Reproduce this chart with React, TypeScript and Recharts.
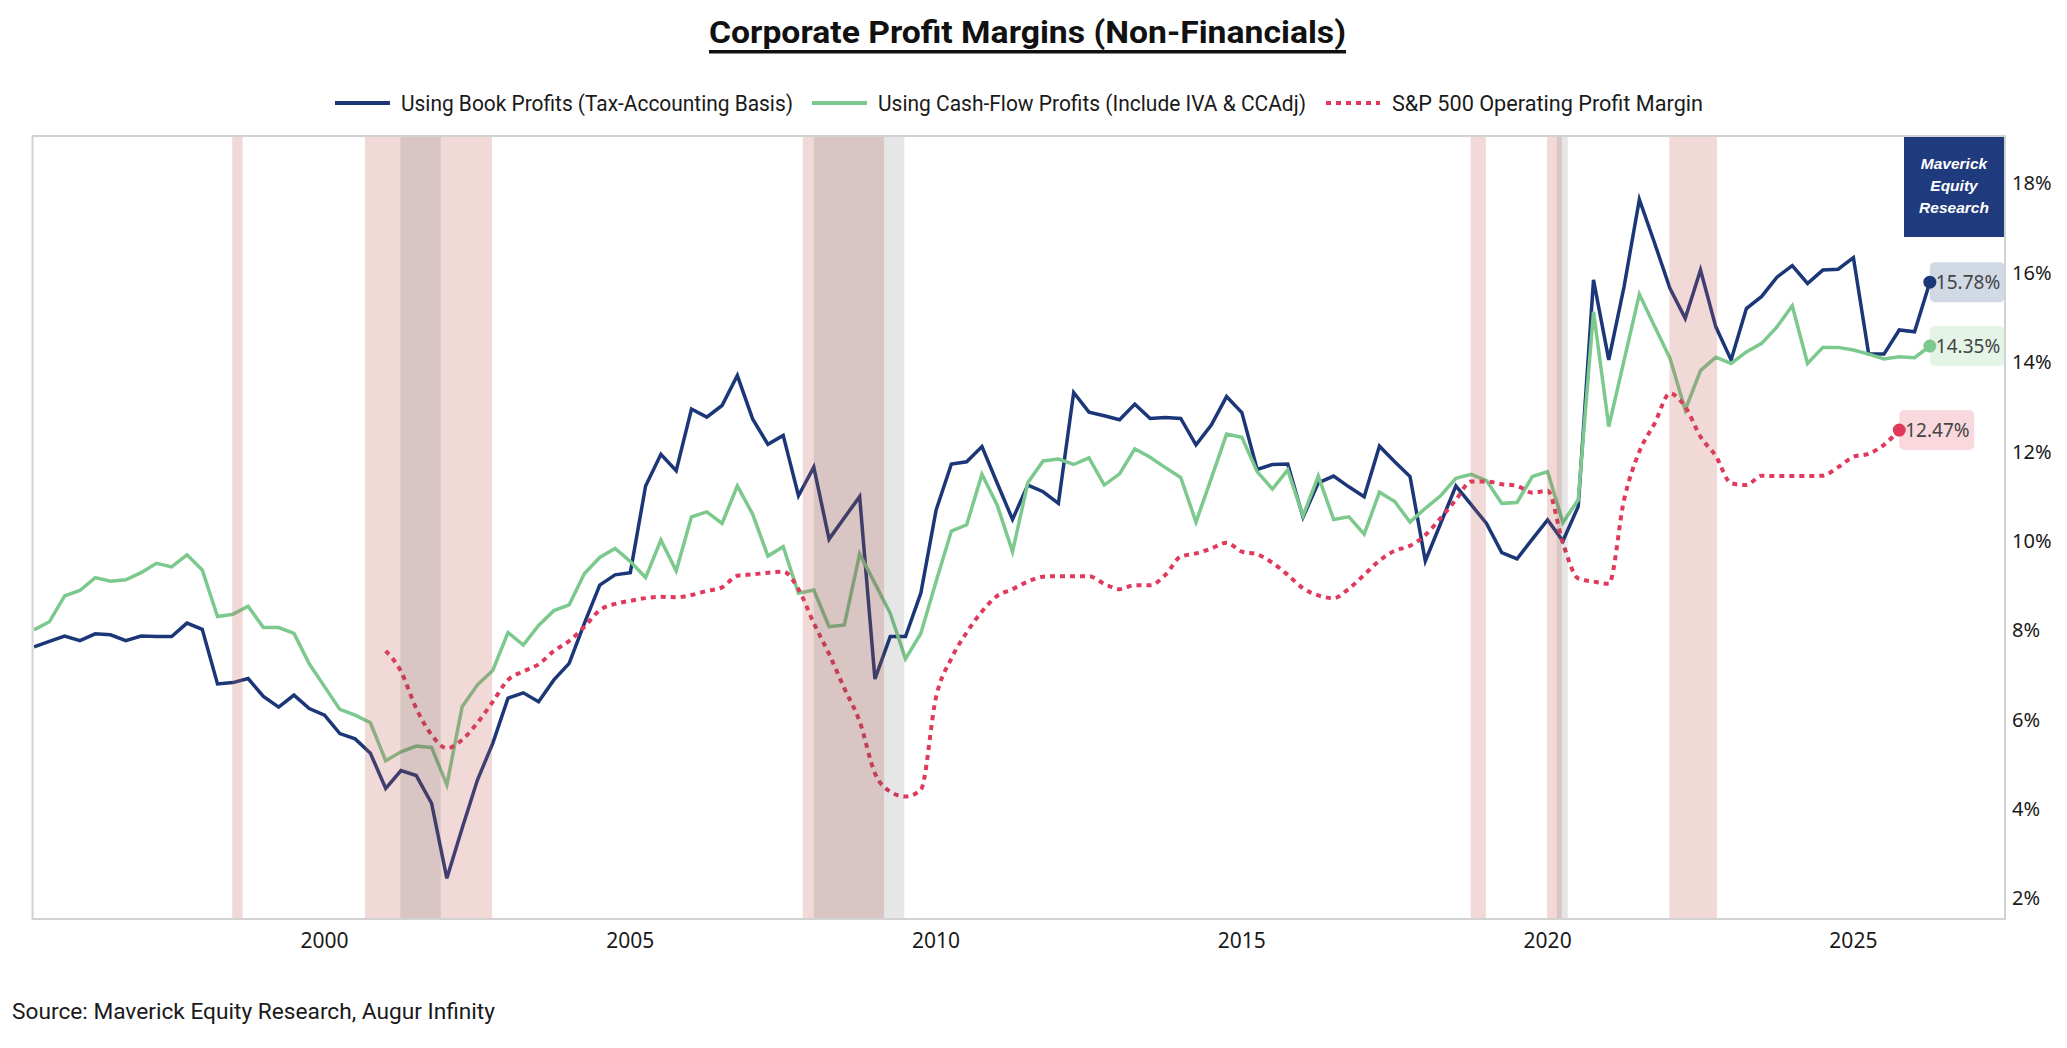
import React from "react";
import { LineChart, Line, XAxis, YAxis, ReferenceArea } from "recharts";

// ---------- DATA ----------
// quarterly observations, first one at 1995.25 on the (fractional-year) time axis
const FIRST_QUARTER = 1995.25;
const QUARTER_STEP = 0.25;

const BOOK_PROFITS = [
  7.62, 7.74, 7.86, 7.76, 7.91, 7.89, 7.76, 7.86, 7.85, 7.85,
  8.15, 8.01, 6.79, 6.82, 6.91, 6.51, 6.27, 6.54, 6.24, 6.09,
  5.68, 5.56, 5.24, 4.45, 4.85, 4.74, 4.12, 2.44, 3.56, 4.64,
  5.46, 6.47, 6.59, 6.39, 6.88, 7.25, 8.15, 9.0, 9.23, 9.28,
  11.22, 11.93, 11.56, 12.94, 12.76, 13.02, 13.69, 12.72, 12.15, 12.35,
  11.0, 11.64, 10.03, 10.51, 10.98, 6.9, 7.85, 7.85, 8.82, 10.68,
  11.71, 11.76, 12.1, 11.28, 10.47, 11.24, 11.09, 10.83, 13.31, 12.87,
  12.79, 12.7, 13.05, 12.73, 12.75, 12.73, 12.14, 12.58, 13.22, 12.86,
  11.59, 11.7, 11.71, 10.52, 11.29, 11.44, 11.2, 10.98, 12.11, 11.76,
  11.43, 9.54, 10.38, 11.22, 10.8, 10.38, 9.73, 9.59, 10.03, 10.46,
  9.99, 10.76, 15.83, 14.04, 15.68, 17.63, 16.65, 15.64, 14.97, 16.05,
  14.78, 14.04, 15.19, 15.46, 15.89, 16.15, 15.75, 16.05, 16.07, 16.33,
  14.17, 14.17, 14.71, 14.67, 15.78,
];

const CASH_FLOW_PROFITS = [
  8.0, 8.18, 8.76, 8.88, 9.17, 9.09, 9.12, 9.28, 9.49, 9.41,
  9.68, 9.34, 8.3, 8.35, 8.53, 8.05, 8.05, 7.92, 7.24, 6.73,
  6.22, 6.09, 5.92, 5.07, 5.27, 5.4, 5.37, 4.53, 6.28, 6.77,
  7.09, 7.94, 7.66, 8.1, 8.43, 8.56, 9.26, 9.62, 9.82, 9.53,
  9.17, 10.01, 9.32, 10.53, 10.64, 10.38, 11.22, 10.59, 9.65, 9.86,
  8.82, 8.89, 8.07, 8.11, 9.7, 9.04, 8.37, 7.35, 7.92, 9.08,
  10.21, 10.35, 11.48, 10.79, 9.75, 11.29, 11.78, 11.82, 11.7, 11.85,
  11.24, 11.49, 12.05, 11.86, 11.63, 11.41, 10.41, 11.39, 12.38, 12.31,
  11.54, 11.15, 11.58, 10.55, 11.44, 10.47, 10.53, 10.14, 11.08, 10.87,
  10.41, 10.72, 11.0, 11.39, 11.48, 11.34, 10.83, 10.85, 11.43, 11.54,
  10.4, 10.91, 15.12, 12.55, 14.03, 15.51, 14.79, 14.08, 12.92, 13.8,
  14.1, 13.96, 14.22, 14.41, 14.78, 15.25, 13.96, 14.32, 14.32, 14.26,
  14.17, 14.06, 14.11, 14.09, 14.35,
];

// S&P 500 series starts at the 24th quarter of the grid (index 23)
const SP500_START_INDEX = 23;
const SP500_MARGIN = [
  7.53, 7.07, 6.24, 5.65, 5.35, 5.54, 5.92, 6.39, 6.88, 7.07,
  7.23, 7.53, 7.75, 8.07, 8.44, 8.58, 8.65, 8.71, 8.74, 8.73,
  8.78, 8.87, 8.95, 9.21, 9.24, 9.28, 9.3, 8.91, 8.15, 7.46,
  6.69, 5.95, 4.79, 4.38, 4.27, 4.42, 6.5, 7.36, 7.94, 8.41,
  8.76, 8.91, 9.08, 9.19, 9.2, 9.2, 9.2, 9.03, 8.91, 9.0,
  9.0, 9.23, 9.64, 9.71, 9.82, 9.95, 9.75, 9.69, 9.5, 9.23,
  8.93, 8.77, 8.71, 8.92, 9.23, 9.55, 9.77, 9.88, 10.12, 10.5,
  10.91, 11.32, 11.32, 11.26, 11.22, 11.07, 11.11, 9.94, 9.15, 9.08,
  9.03, 10.91, 11.99, 12.62, 13.29, 12.99, 12.32, 11.89, 11.28, 11.24,
  11.45, 11.44, 11.44, 11.44, 11.45, 11.64, 11.87, 11.94, 12.14, 12.47,
];

// shaded periods (fractional years)
const PINK_BANDS = [
  [1998.49, 1998.66],
  [2000.66, 2002.74],
  [2007.82, 2009.15],
  [2018.74, 2018.99],
  [2019.99, 2020.23],
  [2021.99, 2022.77],
];
const GRAY_BANDS = [
  [2001.24, 2001.9],
  [2008.0, 2009.48],
  [2020.15, 2020.33],
];

const X_TICKS = [2000, 2005, 2010, 2015, 2020, 2025];
const Y_TICKS = [2, 4, 6, 8, 10, 12, 14, 16, 18];
const X_DOMAIN = [1995.226, 2027.479];
const Y_DOMAIN = [1.53, 19.05];

const TITLE = "Corporate Profit Margins (Non-Financials)";
const LEGEND_BOOK = "Using Book Profits (Tax-Accounting Basis)";
const LEGEND_CASH = "Using Cash-Flow Profits (Include IVA & CCAdj)";
const LEGEND_SP = "S&P 500 Operating Profit Margin";
const SOURCE = "Source: Maverick Equity Research, Augur Infinity";

// ---------- STYLE ----------
const BLUE = "#1b3778";
const GREEN = "#7cc98e";
const RED = "#e0395b";
const NARROW = "'Liberation Sans Narrow', 'Roboto', 'Noto Sans', sans-serif";
const TICK_FONT = "'Noto Sans', 'DejaVu Sans', sans-serif";

const data = BOOK_PROFITS.map((b, i) => {
  const j = i - SP500_START_INDEX;
  return {
    t: FIRST_QUARTER + i * QUARTER_STEP,
    book: b,
    cash: CASH_FLOW_PROFITS[i],
    sp: j >= 0 && j < SP500_MARGIN.length ? SP500_MARGIN[j] : null,
  };
});

const LAST_MAIN = BOOK_PROFITS.length - 1;
const LAST_SP = SP500_START_INDEX + SP500_MARGIN.length - 1;

const makeEndDot = (key: string, color: string, bg: string, lastIndex: number) =>
  (props: any) => {
    const { cx, cy, index, payload } = props;
    if (index !== lastIndex || cx == null || cy == null) {
      return <g key={`${key}-${index}`} />;
    }
    const v = payload[key] as number;
    return (
      <g key={`${key}-end`}>
        <rect x={cx} y={cy - 20} width={75} height={40} rx={5} fill={bg} />
        <circle cx={cx} cy={cy} r={6.5} fill={color} />
        <text
          x={cx + 6}
          y={cy + 7}
          fontSize={19}
          fill="#454545"
          fontFamily={TICK_FONT}
        >
          {v.toFixed(2)}%
        </text>
      </g>
    );
  };

const XTick = (props: any) => {
  const { x, y, payload } = props;
  return (
    <text x={x} y={y + 29} textAnchor="middle" fontSize={21} fill="#1a1a1a" fontFamily={TICK_FONT}>
      {payload.value}
    </text>
  );
};

const YTick = (props: any) => {
  const { x, y, payload } = props;
  return (
    <text x={x + 7} y={y + 7.5} textAnchor="start" fontSize={20} fill="#1a1a1a" fontFamily={TICK_FONT}>
      {payload.value}%
    </text>
  );
};

export default function App() {
  return (
    <div style={{ position: "absolute", left: 0, top: 0, width: 2067, height: 1048, background: "#fff" }}>
      <LineChart
        width={2067}
        height={1048}
        data={data}
        margin={{ top: 136, right: 0, bottom: 89, left: 32.6 }}
      >
        <XAxis
          dataKey="t"
          type="number"
          domain={X_DOMAIN}
          allowDataOverflow
          ticks={X_TICKS}
          axisLine={false}
          tickLine={false}
          tickSize={0}
          tickMargin={0}
          height={40}
          tick={<XTick />}
          interval={0}
        />
        <YAxis
          orientation="right"
          type="number"
          domain={Y_DOMAIN}
          allowDataOverflow
          ticks={Y_TICKS}
          axisLine={false}
          tickLine={false}
          tickSize={0}
          tickMargin={0}
          width={62}
          tick={<YTick />}
          interval={0}
        />
        <Line
          dataKey="book"
          stroke={BLUE}
          strokeWidth={3.5}
          strokeLinejoin="miter"
          type="linear"
          isAnimationActive={false}
          dot={makeEndDot("book", BLUE, "#d1d9e5", LAST_MAIN)}
          activeDot={false}
        />
        <Line
          dataKey="cash"
          stroke={GREEN}
          strokeWidth={3.5}
          type="linear"
          isAnimationActive={false}
          dot={makeEndDot("cash", GREEN, "#e4f4e7", LAST_MAIN)}
          activeDot={false}
        />
        <Line
          dataKey="sp"
          stroke={RED}
          strokeWidth={4}
          strokeDasharray="5 5"
          type="monotone"
          connectNulls={false}
          isAnimationActive={false}
          dot={makeEndDot("sp", RED, "#f9d8de", LAST_SP)}
          activeDot={false}
        />
        {PINK_BANDS.map(([a, b], i) => (
          <ReferenceArea
            key={`p${i}`}
            x1={a}
            x2={b}
            y1={Y_DOMAIN[0]}
            y2={Y_DOMAIN[1]}
            fill="rgb(190,90,80)"
            fillOpacity={0.23}
            stroke="none"
            zIndex={1500}
          />
        ))}
        {GRAY_BANDS.map(([a, b], i) => (
          <ReferenceArea
            key={`g${i}`}
            x1={a}
            x2={b}
            y1={Y_DOMAIN[0]}
            y2={Y_DOMAIN[1]}
            fill="rgb(60,60,60)"
            fillOpacity={0.13}
            stroke="none"
            zIndex={1510}
          />
        ))}
        <ReferenceArea
          x1={X_DOMAIN[0]}
          x2={X_DOMAIN[1]}
          y1={Y_DOMAIN[0]}
          y2={Y_DOMAIN[1]}
          fill="none"
          fillOpacity={0}
          stroke="#d2d2d2"
          strokeWidth={2}
          zIndex={1520}
        />
      </LineChart>

      <svg
        width={2067}
        height={1048}
        style={{ position: "absolute", left: 0, top: 0, pointerEvents: "none" }}
      >
        {/* title */}
        <text
          x={709}
          y={43}
          fontSize={32}
          fontWeight={700}
          fill="#111"
          fontFamily={NARROW}
          textLength={637}
          lengthAdjust="spacingAndGlyphs"
        >
          {TITLE}
        </text>
        <rect x={709} y={50} width={637} height={3.5} fill="#111" />

        {/* legend */}
        <line x1={335} y1={103} x2={390} y2={103} stroke={BLUE} strokeWidth={4} />
        <text x={401} y={111} fontSize={22} fill="#1a1a1a" fontFamily={NARROW} textLength={392} lengthAdjust="spacingAndGlyphs">
          {LEGEND_BOOK}
        </text>
        <line x1={812} y1={103} x2={867} y2={103} stroke={GREEN} strokeWidth={4} />
        <text x={878} y={111} fontSize={22} fill="#1a1a1a" fontFamily={NARROW} textLength={428} lengthAdjust="spacingAndGlyphs">
          {LEGEND_CASH}
        </text>
        <line x1={1326} y1={103} x2={1380} y2={103} stroke={RED} strokeWidth={4} strokeDasharray="5 5" />
        <text x={1392} y={111} fontSize={22} fill="#1a1a1a" fontFamily={NARROW} textLength={311} lengthAdjust="spacingAndGlyphs">
          {LEGEND_SP}
        </text>

        {/* logo */}
        <rect x={1904} y={137} width={100} height={100} fill="#1f3a7d" />
        <g fontFamily="'Liberation Sans', Arial, sans-serif" fontWeight={700} fontStyle="italic" fontSize={15.5} fill="#fff" textAnchor="middle">
          <text x={1954} y={168.5}>Maverick</text>
          <text x={1954} y={191}>Equity</text>
          <text x={1954} y={212.5}>Research</text>
        </g>

        {/* source */}
        <text x={12} y={1019} fontSize={22} fill="#1a1a1a" fontFamily={NARROW} textLength={483} lengthAdjust="spacingAndGlyphs">
          {SOURCE}
        </text>
      </svg>
    </div>
  );
}
